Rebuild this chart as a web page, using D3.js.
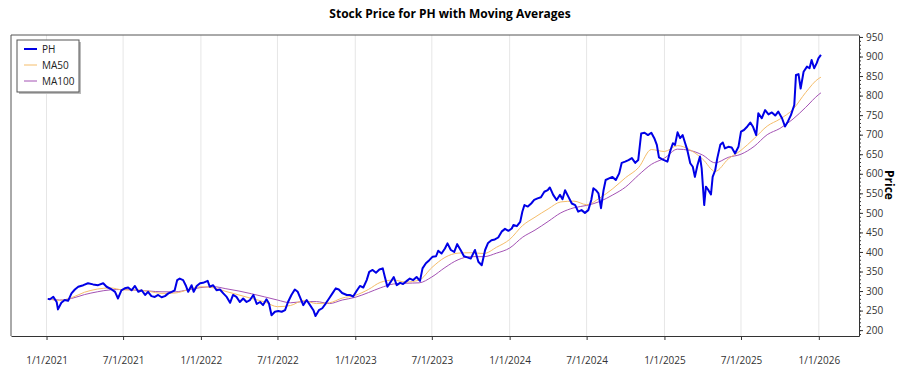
<!DOCTYPE html>
<html>
<head>
<meta charset="utf-8">
<script src="https://cdn.jsdelivr.net/npm/d3@7"></script>
<style>
  body { margin: 0; background: #ffffff; }
  text { font-family: "Open Sans", "Noto Sans", sans-serif; }
</style>
</head>
<body>
<div class="chart"></div>
<script>
// price series (PH close, read off the chart roughly weekly)
var priceDates = [
  "2021-01-04","2021-01-09","2021-01-17","2021-01-25","2021-01-28","2021-02-05","2021-02-13","2021-02-21","2021-03-01","2021-03-09",
  "2021-03-17","2021-03-29","2021-04-09","2021-04-21","2021-05-03","2021-05-15","2021-05-23","2021-06-04","2021-06-12","2021-06-19",
  "2021-06-27","2021-07-05","2021-07-13","2021-07-21","2021-07-29","2021-08-06","2021-08-14","2021-08-22","2021-08-29","2021-09-06",
  "2021-09-14","2021-09-22","2021-09-30","2021-10-08","2021-10-16","2021-10-24","2021-10-31","2021-11-06","2021-11-12","2021-11-20",
  "2021-11-26","2021-12-02","2021-12-10","2021-12-15","2021-12-22","2021-12-30","2022-01-06","2022-01-17","2022-01-22","2022-01-30",
  "2022-02-07","2022-02-15","2022-02-23","2022-03-03","2022-03-11","2022-03-18","2022-03-26","2022-04-03","2022-04-11","2022-04-19",
  "2022-04-27","2022-05-05","2022-05-13","2022-05-21","2022-05-28","2022-06-05","2022-06-11","2022-06-17","2022-06-25","2022-07-03",
  "2022-07-11","2022-07-19","2022-07-26","2022-08-03","2022-08-11","2022-08-18","2022-08-23","2022-08-31","2022-09-08","2022-09-16",
  "2022-09-24","2022-09-29","2022-10-07","2022-10-15","2022-10-23","2022-10-31","2022-11-08","2022-11-16","2022-11-23","2022-12-01",
  "2022-12-12","2022-12-19","2022-12-27","2023-01-04","2023-01-12","2023-01-20","2023-01-28","2023-02-03","2023-02-11","2023-02-19",
  "2023-02-27","2023-03-07","2023-03-12","2023-03-18","2023-03-26","2023-04-02","2023-04-09","2023-04-17","2023-04-24","2023-05-03",
  "2023-05-10","2023-05-18","2023-05-26","2023-06-03","2023-06-09","2023-06-17","2023-06-25","2023-07-03","2023-07-11","2023-07-16",
  "2023-07-24","2023-08-01","2023-08-07","2023-08-15","2023-08-23","2023-08-30","2023-09-07","2023-09-15","2023-09-23","2023-10-01",
  "2023-10-11","2023-10-19","2023-10-27","2023-11-04","2023-11-11","2023-11-19","2023-11-27","2023-12-05","2023-12-13","2023-12-21",
  "2023-12-29","2024-01-06","2024-01-10","2024-01-18","2024-01-26","2024-01-31","2024-02-05","2024-02-13","2024-02-21","2024-02-28",
  "2024-03-07","2024-03-15","2024-03-23","2024-03-31","2024-04-05","2024-04-13","2024-04-21","2024-04-29","2024-05-05","2024-05-11",
  "2024-05-19","2024-05-27","2024-06-04","2024-06-11","2024-06-19","2024-06-27","2024-07-05","2024-07-12","2024-07-17","2024-07-23",
  "2024-07-29","2024-08-04","2024-08-10","2024-08-15","2024-08-23","2024-08-31","2024-09-08","2024-09-16","2024-09-22","2024-09-30",
  "2024-10-08","2024-10-16","2024-10-24","2024-10-31","2024-11-07","2024-11-15","2024-11-23","2024-12-01","2024-12-08","2024-12-14",
  "2024-12-19","2024-12-27","2025-01-04","2025-01-08","2025-01-14","2025-01-21","2025-01-26","2025-02-01","2025-02-07","2025-02-13",
  "2025-02-19","2025-02-24","2025-03-03","2025-03-09","2025-03-14","2025-03-20","2025-03-26","2025-03-30","2025-04-05","2025-04-09",
  "2025-04-15","2025-04-21","2025-04-25","2025-05-01","2025-05-06","2025-05-13","2025-05-19","2025-05-24","2025-06-01","2025-06-09",
  "2025-06-17","2025-06-25","2025-07-01","2025-07-08","2025-07-16","2025-07-23","2025-07-29","2025-08-06","2025-08-11","2025-08-19",
  "2025-08-27","2025-09-04","2025-09-12","2025-09-20","2025-09-27","2025-10-06","2025-10-13","2025-10-20","2025-10-27","2025-11-04",
  "2025-11-08","2025-11-14","2025-11-19","2025-11-26","2025-12-04","2025-12-10","2025-12-15","2025-12-21","2025-12-27","2025-12-31",
  "2026-01-06"
];
var priceValues = [
  280,279,285,272,253,270,277,275,294,304,
  311,315,320,317,315,320,311,304,298,281,
  302,307,309,302,313,298,302,290,298,287,
  285,290,284,287,294,298,302,328,332,328,
  315,298,315,298,313,320,321,326,311,315,
  302,304,294,285,270,290,285,272,281,272,
  277,290,267,272,264,279,268,238,247,249,
  247,251,272,290,304,298,285,264,277,264,
  251,236,251,256,268,281,294,307,304,295,
  290,290,286,300,313,309,328,349,354,347,
  355,358,336,311,324,336,315,321,318,326,
  332,328,336,326,358,371,379,388,389,403,
  396,409,422,405,400,420,405,389,386,383,
  405,375,366,405,423,430,432,437,452,459,
  454,460,469,466,477,503,520,516,524,533,
  537,540,554,558,565,546,533,546,535,558,
  541,524,520,503,507,500,507,533,563,558,
  550,512,558,584,588,592,584,601,628,631,
  635,640,628,635,703,705,699,705,691,674,
  642,637,633,631,656,678,674,706,691,699,
  678,661,627,618,592,622,644,614,520,567,
  558,547,592,609,640,674,680,665,669,667,
  652,669,708,712,721,731,721,699,755,742,
  763,752,757,749,759,742,721,734,750,776,
  853,855,818,861,874,870,891,870,883,895,
  904
];

// moving averages, read monthly
var maDates = [
  "2021-01-04","2021-02-01","2021-03-01","2021-04-01","2021-05-01","2021-06-01","2021-07-01","2021-08-01","2021-09-01","2021-10-01","2021-11-01","2021-12-01",
  "2022-01-01","2022-02-01","2022-03-01","2022-04-01","2022-05-01","2022-06-01","2022-07-01","2022-08-01","2022-09-01","2022-10-01","2022-11-01","2022-12-01",
  "2023-01-01","2023-02-01","2023-03-01","2023-04-01","2023-05-01","2023-06-01","2023-07-01","2023-08-01","2023-09-01","2023-10-01","2023-11-01","2023-12-01",
  "2024-01-01","2024-02-01","2024-03-01","2024-04-01","2024-05-01","2024-06-01","2024-07-01","2024-08-01","2024-09-01","2024-10-01","2024-11-01","2024-12-01",
  "2025-01-01","2025-02-01","2025-03-01","2025-04-01","2025-05-01","2025-06-01","2025-07-01","2025-08-01","2025-09-01","2025-10-01","2025-11-01","2025-12-01",
  "2026-01-01","2026-01-06"
];
var ma50Values = [
  280,276,283,297,305,308,303,303,299,294,295,303,
  311,308,299,290,281,272,260,263,276,268,270,282,
  289,304,322,328,323,328,360,386,397,398,396,412,
  432,468,489,510,528,530,521,538,562,590,616,662,
  657,672,662,638,606,638,660,690,722,740,765,808,
  844,847
];
var ma100Values = [
  280,277,281,291,298,303,304,302,300,298,298,303,
  309,311,306,300,293,285,277,270,273,273,268,277,
  284,296,308,318,320,321,336,360,380,388,388,397,
  410,438,456,478,500,513,519,529,546,566,597,624,
  640,663,660,648,628,642,650,670,700,716,740,770,
  803,807
];

var xTicks = ["2021-01-01","2021-07-01","2022-01-01","2022-07-01","2023-01-01","2023-07-01",
  "2024-01-01","2024-07-01","2025-01-01","2025-07-01","2026-01-01"];
var yTicks = [200,250,300,350,400,450,500,550,600,650,700,750,800,850,900,950];

var series = [
  { name: "PH", dates: priceDates, values: priceValues, color: "#0000e6", width: 2 },
  { name: "MA50", dates: maDates, values: ma50Values, color: "#f5bd6a", width: 1 },
  { name: "MA100", dates: maDates, values: ma100Values, color: "#a452b4", width: 1 }
];

var width = 900, height = 375;
var plot = { left: 11, right: 859, top: 35, bottom: 336 };
var parse = d3.timeParse("%Y-%m-%d");

var svg = d3.select(".chart")
  .append("svg")
    .attr("width", width)
    .attr("height", height);

// scales
var x = d3.scaleTime()
  .domain([parse("2020-10-09"), parse("2026-04-06")])
  .range([plot.left, plot.right]);

var y = d3.scaleLinear()
  .domain([185, 955])
  .range([plot.bottom, plot.top]);

// title
svg.append("text")
  .attr("x", 450)
  .attr("y", 18)
  .attr("text-anchor", "middle")
  .attr("font-size", "12px")
  .attr("font-weight", "bold")
  .attr("fill", "#000")
  .text("Stock Price for PH with Moving Averages");

// vertical grid
svg.append("g")
  .selectAll("line")
  .data(xTicks)
  .enter()
  .append("line")
    .attr("x1", function(d) { return x(parse(d)); })
    .attr("x2", function(d) { return x(parse(d)); })
    .attr("y1", plot.top)
    .attr("y2", plot.bottom)
    .attr("stroke", "#e6e6e6")
    .attr("stroke-width", 1);

// frame top/left
svg.append("path")
  .attr("d", "M" + plot.left + "," + plot.bottom + "V" + plot.top + "H" + plot.right)
  .attr("fill", "none")
  .attr("stroke", "#555")
  .attr("stroke-width", 1);

// lines
var line = d3.line()
  .x(function(d) { return x(d.date); })
  .y(function(d) { return y(d.value); });

series.slice().reverse().forEach(function(s) {
  var pts = s.dates.map(function(d, i) { return { date: parse(d), value: s.values[i] }; });
  svg.append("path")
    .datum(pts)
    .attr("fill", "none")
    .attr("stroke", s.color)
    .attr("stroke-width", s.width)
    .attr("stroke-linejoin", "round")
    .attr("d", line.curve(s.name == "PH" ? d3.curveLinear : d3.curveMonotoneX));
});

// x axis
var xAxis = d3.axisBottom(x)
  .tickValues(xTicks.map(parse))
  .tickFormat(d3.timeFormat("%-m/%-d/%Y"))
  .tickSize(4)
  .tickSizeOuter(0)
  .tickPadding(17);

var xAxisGroup = svg.append("g")
  .attr("transform", "translate(0," + plot.bottom + ")")
  .call(xAxis);
xAxisGroup.select(".domain").attr("stroke", "#333");
xAxisGroup.selectAll(".tick line").attr("stroke", "#333");
xAxisGroup.selectAll("text")
  .attr("font-size", "10px")
  .attr("fill", "#333")
  .style("font-family", "'Open Sans', sans-serif");

// y axis, right side, with minor ticks
svg.append("g")
  .attr("transform", "translate(" + plot.right + ",0)")
  .call(d3.axisRight(y).tickValues(d3.range(190, 955, 10)).tickSize(2).tickFormat(""))
  .call(function(g) { g.select(".domain").remove(); })
  .selectAll("line").attr("stroke", "#333");

var yAxisGroup = svg.append("g")
  .attr("transform", "translate(" + plot.right + ",0)")
  .call(d3.axisRight(y).tickValues(yTicks).tickSize(4).tickSizeOuter(0).tickPadding(3));
yAxisGroup.select(".domain").attr("stroke", "#333");
yAxisGroup.selectAll(".tick line").attr("stroke", "#333");
yAxisGroup.selectAll("text")
  .attr("font-size", "10px")
  .attr("fill", "#333")
  .style("font-family", "'Open Sans', sans-serif");

// y label
svg.append("text")
  .attr("transform", "translate(885,185) rotate(90)")
  .attr("text-anchor", "middle")
  .attr("font-size", "12px")
  .attr("font-weight", "bold")
  .attr("fill", "#000")
  .text("Price");

// legend
var legend = svg.append("g").attr("transform", "translate(17,40)");
legend.append("rect")
  .attr("x", 2).attr("y", 2)
  .attr("width", 62).attr("height", 52)
  .attr("fill", "#bbb");
legend.append("rect")
  .attr("width", 62).attr("height", 52)
  .attr("fill", "#fff")
  .attr("stroke", "#555");

var items = legend.selectAll(".item")
  .data(series)
  .enter()
  .append("g")
    .attr("transform", function(d, i) { return "translate(0," + (9 + i * 16) + ")"; });
items.append("line")
  .attr("x1", 7).attr("x2", 20)
  .attr("stroke", function(d) { return d.color; })
  .attr("stroke-width", function(d) { return d.width; });
items.append("text")
  .attr("x", 25)
  .attr("dy", "0.35em")
  .attr("font-size", "10px")
  .attr("fill", "#222")
  .text(function(d) { return d.name; });
</script>
</body>
</html>
